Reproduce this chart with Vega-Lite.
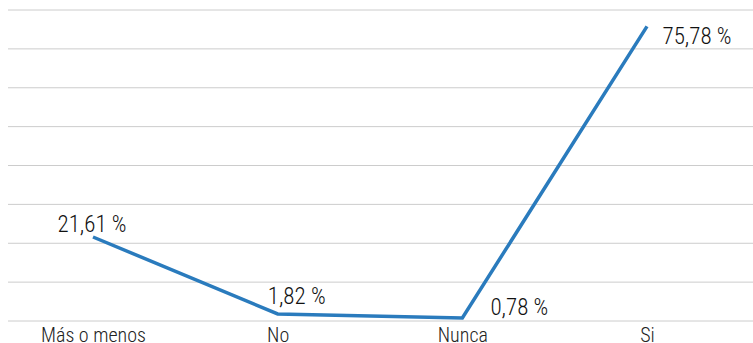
{
  "$schema": "https://vega.github.io/schema/vega-lite/v6.json",
  "autosize": "none",
  "width": 745,
  "height": 311,
  "padding": {"left": 8, "top": 10, "right": 0, "bottom": 22},
  "background": "white",
  "config": {"view": {"stroke": null}, "font": "Roboto Condensed, Roboto"},
  "datasets": {
    "lineas": [{"y": 0}, {"y": 10}, {"y": 20}, {"y": 30}, {"y": 40}, {"y": 50}, {"y": 60}, {"y": 70}, {"y": 80}]
  },
  "data": {"values": [
    {"categoria": "Más o menos", "valor": 21.61, "etiqueta": "21,61 %"},
    {"categoria": "No", "valor": 1.82, "etiqueta": "1,82 %"},
    {"categoria": "Nunca", "valor": 0.78, "etiqueta": "0,78 %"},
    {"categoria": "Si", "valor": 75.78, "etiqueta": "75,78 %"}
  ]},
  "layer": [
    {"data": {"name": "lineas"},
     "mark": {"type": "rule", "color": "#cccccc", "strokeWidth": 1},
     "encoding": {"y": {"field": "y", "type": "quantitative", "scale": {"domain": [0, 80], "nice": false}, "axis": null}}},
    {"encoding": {
      "x": {"field": "categoria", "type": "ordinal", "sort": null,
        "scale": {"type": "point", "range": [85, 639], "padding": 0},
        "axis": {"title": null, "domain": false, "ticks": false, "grid": false, "labelAngle": 0, "labelFontSize": 20, "labelFontWeight": 300, "labelColor": "#222222", "labelPadding": 4, "labelFont": "Roboto Condensed, Roboto"}},
      "y": {"field": "valor", "type": "quantitative", "scale": {"domain": [0, 80], "nice": false}, "axis": null}
     },
     "layer": [
      {"mark": {"type": "line", "color": "#2a7bbd", "strokeWidth": 3.5}},
      {"transform": [{"filter": "datum.categoria == 'Más o menos'"}],
       "mark": {"type": "text", "dx": -1, "dy": -5, "baseline": "alphabetic", "fontSize": 23, "fontWeight": 300, "color": "#111111"},
       "encoding": {"text": {"field": "etiqueta"}}},
      {"transform": [{"filter": "datum.categoria == 'No'"}],
       "mark": {"type": "text", "dx": 19, "dy": -10, "baseline": "alphabetic", "fontSize": 23, "fontWeight": 300, "color": "#111111"},
       "encoding": {"text": {"field": "etiqueta"}}},
      {"transform": [{"filter": "datum.categoria == 'Nunca'"}],
       "mark": {"type": "text", "dx": 57, "dy": -3, "baseline": "alphabetic", "fontSize": 23, "fontWeight": 300, "color": "#111111"},
       "encoding": {"text": {"field": "etiqueta"}}},
      {"transform": [{"filter": "datum.categoria == 'Si'"}],
       "mark": {"type": "text", "dx": 50, "dy": 18, "baseline": "alphabetic", "fontSize": 23, "fontWeight": 300, "color": "#111111"},
       "encoding": {"text": {"field": "etiqueta"}}}
     ]}
  ]
}
